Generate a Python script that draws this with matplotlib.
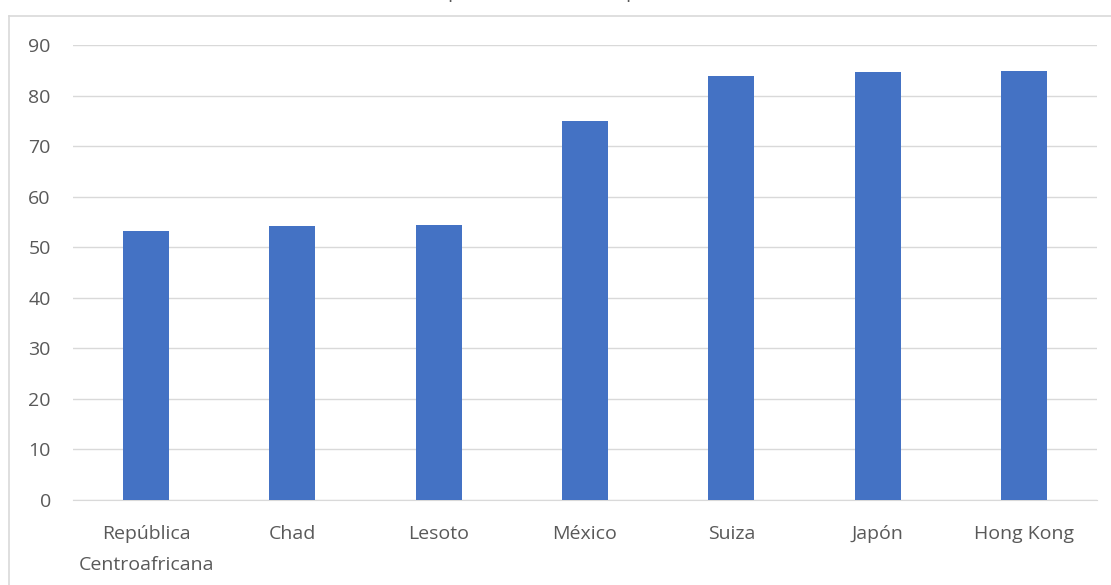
import matplotlib
matplotlib.use("Agg")
import matplotlib.pyplot as plt
from matplotlib.lines import Line2D

paises = ["República\nCentroafricana", "Chad", "Lesoto", "México", "Suiza", "Japón", "Hong Kong"]
esperanza = [53.3, 54.2, 54.3, 75.0, 83.8, 84.6, 84.9]
y_ticks = [0, 10, 20, 30, 40, 50, 60, 70, 80, 90]
titulo = "Esperanza de vida en países"

gris = "#595959"
plt.rcParams["font.family"] = ["Open Sans", "DejaVu Sans"]

fig = plt.figure(figsize=(11.11, 5.85), dpi=100)
ax = fig.add_axes([73 / 1111, 1 - 500 / 585, (1097 - 73) / 1111, (500 - 45) / 585])

x = range(len(paises))
ax.bar(x, esperanza, width=0.315, color="#4472C4", zorder=3)

ax.set_xlim(-0.5, len(paises) - 0.5)
ax.set_ylim(0, 90)
ax.set_yticks(y_ticks)
ax.set_xticks(list(x))
ax.set_xticklabels(paises, fontsize=14, color=gris, linespacing=1.9)
ax.tick_params(axis="y", labelsize=14, labelcolor=gris, length=0, pad=16)
ax.tick_params(axis="x", length=0, pad=18)
ax.grid(axis="y", color="#d9d9d9", linewidth=1, zorder=0)
for side in ["top", "right", "left"]:
    ax.spines[side].set_visible(False)
ax.spines["bottom"].set_color("#d9d9d9")

# chart border (top and left edges visible)
fig.add_artist(Line2D([8.5 / 1111, 8.5 / 1111], [0, 1 - 15.5 / 585], color="#d9d9d9", linewidth=1.2))
fig.add_artist(Line2D([8.5 / 1111, 1], [1 - 15.5 / 585, 1 - 15.5 / 585], color="#d9d9d9", linewidth=1.2))

# title mostly cut off at the top of the image
fig.text(0.5, 1 + 2 / 585, titulo, ha="center", va="baseline", fontsize=14, color=gris)

fig.savefig("out.png", dpi=100)
